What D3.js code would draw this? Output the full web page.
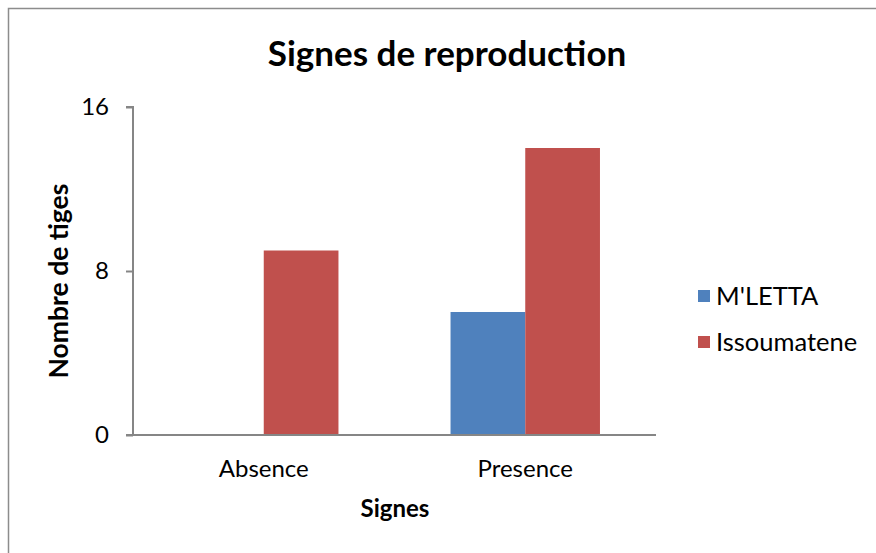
<!DOCTYPE html>
<html>
<head>
<meta charset="utf-8">
<script src="https://cdn.jsdelivr.net/npm/d3@7"></script>
<style>
  html, body { margin: 0; padding: 0; background: #fff; }
  svg { display: block; font-family: Lato, "Open Sans", sans-serif; }
</style>
</head>
<body>
<svg id="chart" width="876" height="553"></svg>
<script>
const categories = ["Absence", "Presence"];
const seriesNames = ["M'LETTA", "Issoumatene"];
const mlettaValues = [0, 6];
const issoumateneValues = [9, 14];
const yTicks = [0, 8, 16];
const colors = ["#4f81bd", "#c0504d"];

const svg = d3.select("#chart");

// outer frame
svg.append("rect")
  .attr("x", 8.5).attr("y", 8.5)
  .attr("width", 880).attr("height", 560)
  .attr("fill", "#fff").attr("stroke", "#8c8c8c").attr("stroke-width", 1.5);

const plot = { left: 133, right: 656, top: 107, bottom: 435 };

const x0 = d3.scaleBand().domain(categories).range([plot.left, plot.right]);
// each group holds two bars plus a gap of 1.5 bar widths
const barW = x0.bandwidth() / 3.5;
const x1 = d3.scaleBand().domain(seriesNames)
  .range([barW * 0.75, x0.bandwidth() - barW * 0.75]);
const y = d3.scaleLinear().domain([0, 16]).range([plot.bottom, plot.top]);

const data = categories.map((c, i) => ({
  category: c,
  values: [
    { name: seriesNames[0], value: mlettaValues[i] },
    { name: seriesNames[1], value: issoumateneValues[i] }
  ]
}));

// bars
const groups = svg.append("g").selectAll("g").data(data).join("g")
  .attr("transform", d => `translate(${x0(d.category)},0)`);
groups.selectAll("rect").data(d => d.values).join("rect")
  .attr("x", d => x1(d.name))
  .attr("width", x1.bandwidth())
  .attr("y", d => y(d.value))
  .attr("height", d => y(0) - y(d.value))
  .attr("fill", (d, i) => colors[i]);

// y axis
const yAxis = svg.append("g")
  .attr("transform", `translate(${plot.left},0)`)
  .call(d3.axisLeft(y).tickValues(yTicks).tickSize(7).tickPadding(17).tickFormat(d3.format("d")));
yAxis.select(".domain").attr("stroke", "#868686").attr("stroke-width", 2).attr("d", `M-7,${plot.top}H0V${plot.bottom}`);
yAxis.selectAll(".tick line").attr("stroke", "#868686").attr("stroke-width", 2);
yAxis.selectAll(".tick text").attr("font-size", 24).attr("fill", "#000").attr("font-family", "Lato, sans-serif");

// x axis
const xAxis = svg.append("g")
  .attr("transform", `translate(0,${plot.bottom})`)
  .call(d3.axisBottom(x0).tickSize(0).tickPadding(25));
xAxis.select(".domain").attr("stroke", "#868686").attr("stroke-width", 2).attr("d", `M${plot.left - 7},0H${plot.right}`);
xAxis.selectAll(".tick text").attr("font-size", 24).attr("fill", "#000").attr("font-family", "Lato, sans-serif");

// title
svg.append("text")
  .attr("x", 447).attr("y", 66)
  .attr("text-anchor", "middle")
  .attr("font-size", 35).attr("font-weight", "bold")
  .text("Signes de reproduction");

// axis titles
svg.append("text")
  .attr("x", 395).attr("y", 517)
  .attr("text-anchor", "middle")
  .attr("font-size", 24).attr("font-weight", "bold")
  .text("Signes");

svg.append("text")
  .attr("transform", "translate(68,281) rotate(-90)")
  .attr("text-anchor", "middle")
  .attr("font-size", 26.5).attr("font-weight", "bold")
  .text("Nombre de tiges");

// legend
const legend = svg.append("g").selectAll("g").data(seriesNames).join("g")
  .attr("transform", (d, i) => `translate(698,${296 + i * 46})`);
legend.append("rect")
  .attr("x", 0).attr("y", -6).attr("width", 12).attr("height", 12)
  .attr("fill", (d, i) => colors[i]);
legend.append("text")
  .attr("x", 18).attr("y", 0).attr("dy", "0.35em")
  .attr("font-size", 25.5)
  .text(d => d);
</script>
</body>
</html>
